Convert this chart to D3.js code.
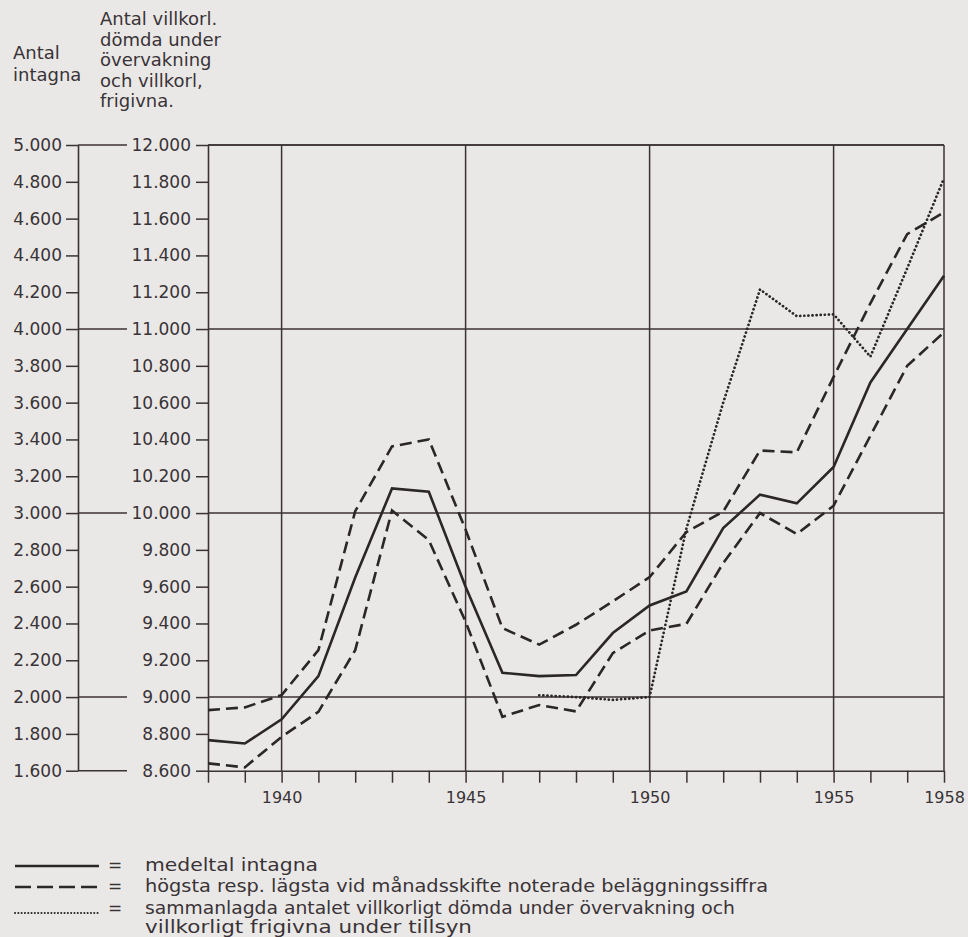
<!DOCTYPE html>
<html>
<head>
<meta charset="utf-8">
<script src="https://cdn.jsdelivr.net/npm/d3@7"></script>
<style>
  html, body { margin: 0; padding: 0; background: #e9e8e6; }
  svg { display: block; }
  text { font-family: "DejaVu Sans", "Noto Sans", sans-serif; fill: #3a3337; }
</style>
</head>
<body>
<svg id="chart" width="968" height="937"></svg>
<script>
// ---------- data ----------
const years = [1938, 1939, 1940, 1941, 1942, 1943, 1944, 1945, 1946, 1947, 1948,
               1949, 1950, 1951, 1952, 1953, 1954, 1955, 1956, 1957, 1958];
// Antal intagna (left axis)
const medeltalIntagna  = [1766, 1748, 1879, 2114, 2650, 3134, 3116, 2600, 2132, 2114, 2120,
                          2348, 2498, 2574, 2918, 3100, 3053, 3250, 3710, 4000, 4290];
const hogstaBelaggning = [1929, 1944, 2011, 2255, 3010, 3362, 3400, 2910, 2375, 2285, 2393,
                          2520, 2652, 2897, 3008, 3340, 3330, 3740, 4140, 4516, 4634];
const lagstaBelaggning = [1640, 1618, 1784, 1920, 2255, 3014, 2853, 2410, 1893, 1957, 1922,
                          2239, 2362, 2398, 2728, 3000, 2886, 3040, 3420, 3800, 3982];
// Villkorligt dömda under övervakning + villkorligt frigivna (right axis)
const villkorligYears  = [1947, 1948, 1949, 1950, 1951, 1952, 1953, 1954, 1955, 1956, 1957, 1958];
const villkorligaTotal = [9010, 9000, 8985, 9000, 9915, 10600, 11215, 11070, 11080, 10850, 11330, 11820];

const leftTicks  = [1600, 1800, 2000, 2200, 2400, 2600, 2800, 3000, 3200, 3400, 3600, 3800,
                    4000, 4200, 4400, 4600, 4800, 5000];
const rightTicks = [8600, 8800, 9000, 9200, 9400, 9600, 9800, 10000, 10200, 10400, 10600,
                    10800, 11000, 11200, 11400, 11600, 11800, 12000];
const majorLeft  = [1600, 2000, 3000, 4000, 5000];
const gridRight  = [9000, 10000, 11000, 12000];
const xLabelYears = [1940, 1945, 1950, 1955, 1958];
const gridYears   = [1940, 1945, 1950, 1955, 1958];

const headerLeft  = ["Antal", "intagna"];
const headerRight = ["Antal villkorl.", "dömda under", "övervakning", "och villkorl,", "frigivna."];
const legendItems = [
  { kind: "solid",  lines: ["medeltal intagna"], widths: [173] },
  { kind: "dashed", lines: ["högsta resp. lägsta vid månadsskifte noterade beläggningssiffra"], widths: [623] },
  { kind: "dotted", lines: ["sammanlagda antalet villkorligt dömda under övervakning och",
                            "villkorligt frigivna under tillsyn"], widths: [590, 327] }
];

// ---------- layout ----------
const ink = "#2b2628";
const gridInk = "#3b3236";
const svg = d3.select("#chart");
svg.append("rect").attr("width", 968).attr("height", 937).attr("fill", "#e9e8e6");

const plotLeft = 208, plotRight = 944, plotTop = 145, plotBottom = 770.7;
const leftAxisX = 78;

const x  = d3.scaleLinear().domain([1938, 1958]).range([plotLeft, plotRight]);
const yL = d3.scaleLinear().domain([1600, 5000]).range([plotBottom, plotTop]);
const yR = d3.scaleLinear().domain([8600, 12000]).range([plotBottom, plotTop]);

const fmt = d => d3.format(",")(d).replace(/,/g, ".");

// grid lines in plot
const g = svg.append("g");
g.selectAll("line.hgrid").data(gridRight).join("line")
  .attr("x1", plotLeft).attr("x2", plotRight)
  .attr("y1", d => yR(d)).attr("y2", d => yR(d))
  .attr("stroke", gridInk).attr("stroke-width", 1.5);
g.selectAll("line.vgrid").data(gridYears).join("line")
  .attr("x1", d => x(d)).attr("x2", d => x(d))
  .attr("y1", plotTop).attr("y2", plotBottom)
  .attr("stroke", gridInk).attr("stroke-width", 1.5);

// connecting segments between the two y axes
g.selectAll("line.conn").data(majorLeft).join("line")
  .attr("x1", leftAxisX).attr("x2", 127)
  .attr("y1", d => yL(d)).attr("y2", d => yL(d))
  .attr("stroke", gridInk).attr("stroke-width", 1.5);

// left axis
const axL = svg.append("g").attr("transform", `translate(${leftAxisX},0)`)
  .call(d3.axisLeft(yL).tickValues(leftTicks).tickSize(12).tickSizeOuter(0).tickPadding(4).tickFormat(fmt));
// right (villkorl.) axis
const axR = svg.append("g").attr("transform", `translate(${plotLeft},0)`)
  .call(d3.axisLeft(yR).tickValues(rightTicks).tickSize(12).tickSizeOuter(0).tickPadding(5).tickFormat(fmt));
// x axis
const axX = svg.append("g").attr("transform", `translate(0,${plotBottom})`)
  .call(d3.axisBottom(x).tickValues(years).tickSize(12).tickSizeOuter(0).tickPadding(9)
        .tickFormat(d => xLabelYears.includes(d) ? String(d) : ""));

[axL, axR, axX].forEach(a => {
  a.select(".domain").attr("stroke", gridInk).attr("stroke-width", 1.6);
  a.selectAll(".tick line").attr("stroke", gridInk).attr("stroke-width", 1.5);
  a.selectAll(".tick text").attr("fill", "#3a3337")
    .style("font-family", '"DejaVu Sans", sans-serif');
});
axL.selectAll(".tick text").style("font-size", "17px");
axR.selectAll(".tick text").style("font-size", "17px");
axX.selectAll(".tick text").style("font-size", "16px");

// top border (12000) across plot
g.append("line").attr("x1", plotLeft).attr("x2", plotRight)
  .attr("y1", yR(12000)).attr("y2", yR(12000))
  .attr("stroke", gridInk).attr("stroke-width", 1.5);

// ---------- series ----------
const lineL = d3.line().x(d => x(d[0])).y(d => yL(d[1]));
const lineR = d3.line().x(d => x(d[0])).y(d => yR(d[1]));
const series = svg.append("g").attr("fill", "none").attr("stroke", ink);

series.append("path").datum(d3.zip(years, hogstaBelaggning))
  .attr("d", lineL).attr("stroke-width", 2.6).attr("stroke-dasharray", "12,6");
series.append("path").datum(d3.zip(years, lagstaBelaggning))
  .attr("d", lineL).attr("stroke-width", 2.6).attr("stroke-dasharray", "12,6");
series.append("path").datum(d3.zip(years, medeltalIntagna))
  .attr("d", lineL).attr("stroke-width", 2.6);
series.append("path").datum(d3.zip(villkorligYears, villkorligaTotal))
  .attr("d", lineR).attr("stroke-width", 2.7).attr("stroke-dasharray", "0.1,4")
  .attr("stroke-linecap", "round");

// ---------- headers ----------
const hL = svg.append("text").attr("x", 13).style("font-size", "18px");
headerLeft.forEach((t, i) => hL.append("tspan").attr("x", 13).attr("y", 59 + i * 22).text(t));
const hR = svg.append("text").style("font-size", "18px");
headerRight.forEach((t, i) => hR.append("tspan").attr("x", 100).attr("y", 25 + i * 20.5).text(t));

// ---------- legend ----------
const legendBase = [871, 892, 914];
const lg = svg.append("g");
legendItems.forEach((item, i) => {
  const yb = legendBase[i];
  const ly = item.kind === "dotted" ? yb - 1 : yb - 5;
  const ln = lg.append("line").attr("x1", 15).attr("x2", 99).attr("y1", ly).attr("y2", ly)
    .attr("stroke", ink);
  if (item.kind === "solid") ln.attr("stroke-width", 2.4);
  if (item.kind === "dashed") ln.attr("stroke-width", 2.6).attr("stroke-dasharray", "16,6");
  if (item.kind === "dotted") ln.attr("stroke-width", 2).attr("stroke-dasharray", "0.1,3.2").attr("stroke-linecap", "round");
  lg.append("text").attr("x", 108).attr("y", yb).style("font-size", "17px").text("=");
  item.lines.forEach((t, j) => {
    lg.append("text").attr("x", 145).attr("y", yb + j * 19).style("font-size", "17px")
      .attr("textLength", item.widths[j]).attr("lengthAdjust", "spacingAndGlyphs").text(t);
  });
});
</script>
</body>
</html>
